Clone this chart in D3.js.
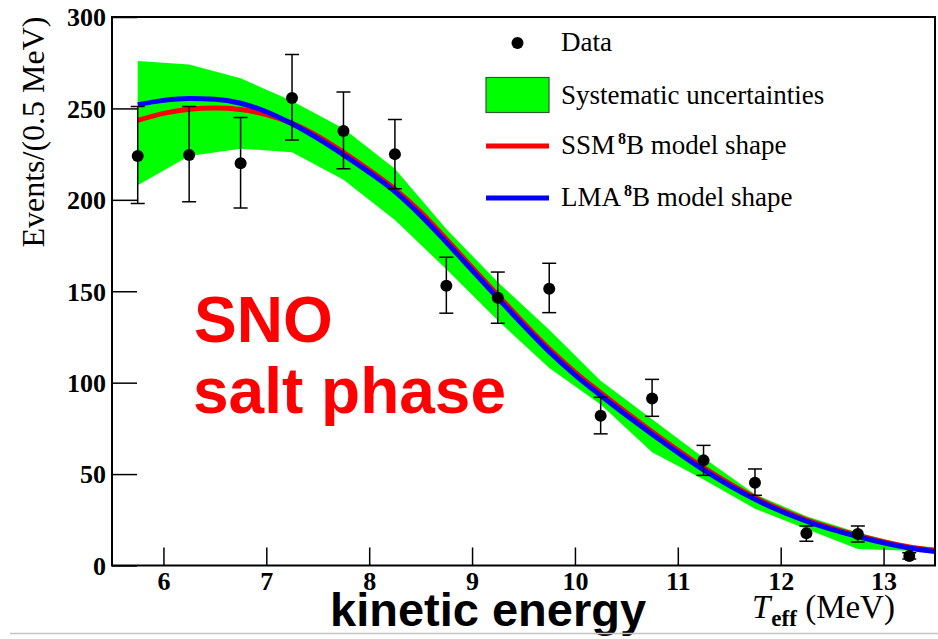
<!DOCTYPE html>
<html>
<head>
<meta charset="utf-8">
<script src="https://cdn.jsdelivr.net/npm/d3@7"></script>
<style>
  body { margin: 0; background: #fff; }
  svg { display: block; }
</style>
</head>
<body>
<div id="chart"></div>
<script>
// measured data points (bin centres, 0.5 MeV bins)
var binE   = [5.75, 6.25, 6.75, 7.25, 7.75, 8.25, 8.75, 9.25, 9.75, 10.25, 10.75, 11.25, 11.75, 12.25, 12.75, 13.25];
var counts = [224, 224.5, 220, 255.7, 237.6, 225, 153, 146.5, 151.4, 81.9, 91.4, 57.5, 45.3, 17.6, 17.2, 5.2];
var errHi  = [251, 251, 245, 279.5, 259, 244, 168.6, 160.5, 165.3, 92, 101.8, 65.7, 52.8, 21.6, 21.6, 7];
var errLo  = [198, 199, 195.5, 232.7, 217, 206, 138, 132.5, 138.3, 72, 81.6, 49.3, 38.4, 13.2, 12.9, 3.5];

// systematic band (upper / lower edge at bin centres)
var bandE  = [5.75, 6.25, 6.75, 7.25, 7.75, 8.25, 8.75, 9.25, 9.75, 10.25, 10.75, 11.25, 11.75, 12.25, 12.75, 13.25, 13.75];
var bandHi = [276, 274, 266.5, 254, 239, 217, 184, 155, 129, 101, 80, 59, 39, 27, 18, 11, 9];
var bandLo = [208, 224, 228, 226, 211, 189, 162, 134, 108, 88, 62, 47, 31, 20, 9, 8, 5.5];

// model shapes
var modelE = [5.75, 6.0, 6.25, 6.5, 6.75, 7.0, 7.25, 7.5, 7.75, 8.0, 8.25, 8.5, 8.75, 9.0, 9.25, 9.5, 9.75, 10.0, 10.25, 10.75, 11.25, 11.75, 12.25, 12.75, 13.25, 13.5];
var ssm    = [243.5, 247.3, 249.5, 250.2, 249.4, 246.6, 241.8, 234.8, 226.0, 216.3, 205.8, 193.3, 178.5, 163.0, 147.8, 132.8, 118.5, 105.8, 94.5, 73.2, 53.6, 37.2, 25.0, 16.5, 10.2, 8.2];
var lma    = [252.0, 254.4, 255.4, 255.0, 252.8, 248.2, 241.6, 233.6, 224.6, 215.0, 204.5, 191.5, 176.8, 161.5, 146.3, 131.3, 117.0, 104.3, 93.0, 71.8, 52.3, 36.2, 24.2, 15.8, 9.6, 7.6];

var yMajor = [0, 50, 100, 150, 200, 250, 300];
var xMajor = [6, 7, 8, 9, 10, 11, 12, 13];

var W = 938, H = 639;
var svg = d3.select("#chart").append("svg")
    .attr("width", W).attr("height", H);

svg.append("rect").attr("width", W).attr("height", H).attr("fill", "#fff");

var x = d3.scaleLinear().domain([5.5, 13.5]).range([112, 935]);
var y = d3.scaleLinear().domain([0, 300]).range([565.5, 17]);

svg.append("clipPath").attr("id", "frame")
  .append("rect")
    .attr("x", x(5.5)).attr("y", y(300))
    .attr("width", x(13.5) - x(5.5)).attr("height", y(0) - y(300));

var plot = svg.append("g").attr("clip-path", "url(#frame)");

// green band
var band = bandE.map(function(e, i) { return {e: e, hi: bandHi[i], lo: bandLo[i]}; });
plot.append("path")
  .datum(band)
  .attr("fill", "#00ff00")
  .attr("d", d3.area()
    .x(function(d) { return x(d.e); })
    .y0(function(d) { return y(d.lo); })
    .y1(function(d) { return y(d.hi); }));

// model curves
var line = d3.line()
  .x(function(d) { return x(d[0]); })
  .y(function(d) { return y(d[1]); })
  .curve(d3.curveMonotoneX);

plot.append("path")
  .datum(modelE.map(function(e, i) { return [e, ssm[i]]; }))
  .attr("fill", "none").attr("stroke", "#ff0000").attr("stroke-width", 5)
  .attr("d", line);

plot.append("path")
  .datum(modelE.map(function(e, i) { return [e, lma[i]]; }))
  .attr("fill", "none").attr("stroke", "#0000ff").attr("stroke-width", 5)
  .attr("d", line);

// data with error bars
var pts = binE.map(function(e, i) { return {e: e, v: counts[i], hi: errHi[i], lo: errLo[i]}; });
var pg = plot.selectAll("g.pt").data(pts).enter().append("g").attr("class", "pt");
pg.append("line")
  .attr("x1", function(d) { return x(d.e); }).attr("x2", function(d) { return x(d.e); })
  .attr("y1", function(d) { return y(d.lo); }).attr("y2", function(d) { return y(d.hi); })
  .attr("stroke", "#000").attr("stroke-width", 1.5);
["hi", "lo"].forEach(function(k) {
  pg.append("line")
    .attr("x1", function(d) { return x(d.e) - 7; }).attr("x2", function(d) { return x(d.e) + 7; })
    .attr("y1", function(d) { return y(d[k]); }).attr("y2", function(d) { return y(d[k]); })
    .attr("stroke", "#000").attr("stroke-width", 1.5);
});
pg.append("circle")
  .attr("cx", function(d) { return x(d.e); })
  .attr("cy", function(d) { return y(d.v); })
  .attr("r", 6).attr("fill", "#000");

// frame
svg.append("rect")
  .attr("x", x(5.5)).attr("y", y(300))
  .attr("width", x(13.5) - x(5.5)).attr("height", y(0) - y(300))
  .attr("fill", "none").attr("stroke", "#000").attr("stroke-width", 2);

// axes: ticks drawn inside the frame
var yMinor = d3.range(0, 301, 10).filter(function(v) { return v % 50 !== 0; });
var xMinor = d3.range(5.6, 13.5, 0.2).filter(function(v) { return Math.abs(v - Math.round(v)) > 0.01; });

var yAx = svg.append("g").attr("transform", "translate(" + x(5.5) + ",0)");
yAx.call(d3.axisLeft(y).tickValues(yMinor).tickSize(-12.5).tickFormat(""));
yAx.call(d3.axisLeft(y).tickValues(yMajor).tickSize(-25).tickPadding(6).tickFormat(d3.format("d")));

var xAx = svg.append("g").attr("transform", "translate(0," + y(0) + ")");
xAx.call(d3.axisBottom(x).tickValues(xMinor).tickSize(-9).tickFormat(""));
xAx.call(d3.axisBottom(x).tickValues(xMajor).tickSize(-18).tickPadding(10).tickFormat(d3.format("d")));

svg.selectAll(".domain").remove();
svg.selectAll(".tick line").attr("stroke", "#000").attr("stroke-width", 1.5);
svg.selectAll(".tick text")
  .attr("font-family", "'Liberation Serif', 'DejaVu Serif', serif")
  .attr("font-weight", "bold")
  .attr("font-size", 26)
  .attr("fill", "#000");
yAx.selectAll(".tick text").attr("dy", "0.34em");
xAx.selectAll(".tick text").attr("dy", "0.71em").attr("y", 6);

// axis titles
svg.append("text")
  .attr("transform", "translate(44,132) rotate(-90)")
  .attr("text-anchor", "middle")
  .attr("font-family", "'Liberation Serif', serif")
  .attr("font-size", 32)
  .text("Events/(0.5 MeV)");

var xt = svg.append("text")
  .attr("x", 752).attr("y", 618)
  .attr("font-family", "'Liberation Serif', serif")
  .attr("font-size", 33);
xt.append("tspan").attr("font-style", "italic").text("T");
xt.append("tspan").attr("font-size", 23).attr("font-weight", "bold").attr("dy", 8).attr("dx", 1).text("eff");
xt.append("tspan").attr("dy", -8).text(" (MeV)");

svg.append("text")
  .attr("x", 330).attr("y", 626)
  .attr("font-family", "'Liberation Sans', Arial, sans-serif")
  .attr("font-weight", "bold")
  .attr("font-size", 47)
  .text("kinetic energy");

svg.append("line")
  .attr("x1", 10).attr("x2", W).attr("y1", 633.5).attr("y2", 633.5)
  .attr("stroke", "#c4c4c4").attr("stroke-width", 1.5);

// SNO annotation
var sno = svg.append("text")
  .attr("font-family", "'Liberation Sans', Arial, sans-serif")
  .attr("font-weight", "bold")
  .attr("font-size", 64)
  .attr("fill", "#ff0000");
sno.append("tspan").attr("x", 194).attr("y", 342).text("SNO");
sno.append("tspan").attr("x", 193).attr("y", 413).text("salt phase");

// legend
var lg = svg.append("g")
  .attr("font-family", "'Liberation Serif', serif")
  .attr("font-size", 27);
lg.append("circle").attr("cx", 517.5).attr("cy", 43).attr("r", 6).attr("fill", "#000");
lg.append("text").attr("x", 561).attr("y", 51).text("Data");
lg.append("rect").attr("x", 486).attr("y", 77.5).attr("width", 63).attr("height", 35)
  .attr("fill", "#00ff00").attr("stroke", "#2d5a2d").attr("stroke-width", 1.2);
lg.append("text").attr("x", 561).attr("y", 103.5).text("Systematic uncertainties");

var entries = [["SSM", "#ff0000", 146, 153.5], ["LMA", "#0000ff", 198, 205.5]];
entries.forEach(function(en) {
  lg.append("line").attr("x1", 486).attr("x2", 549).attr("y1", en[2]).attr("y2", en[2])
    .attr("stroke", en[1]).attr("stroke-width", 5);
  var t = lg.append("text").attr("x", 561).attr("y", en[3]);
  t.append("tspan").text(en[0]);
  t.append("tspan").attr("font-size", 16).attr("font-weight", "bold").attr("dx", 3).attr("dy", -10).text("8");
  t.append("tspan").attr("dy", 10).text("B model shape");
});
</script>
</body>
</html>
